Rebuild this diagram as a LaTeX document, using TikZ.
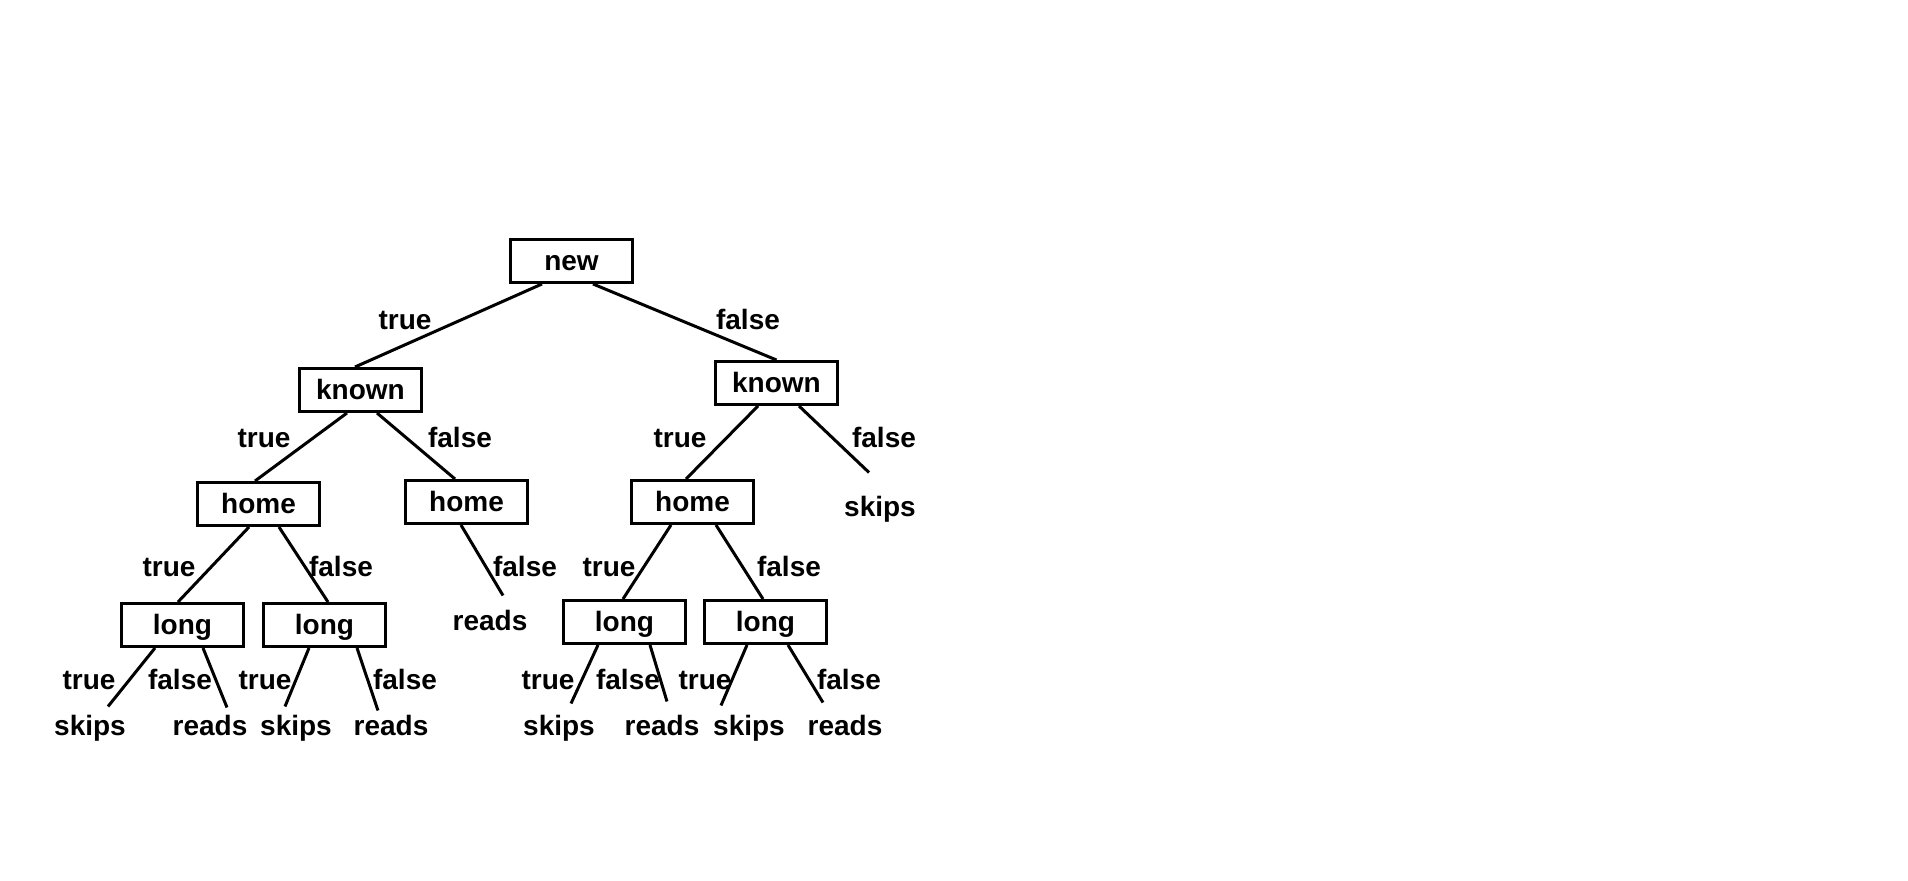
\documentclass[tikz,border=0pt]{standalone}
\usepackage{fontspec}
\setmainfont{Liberation Sans}
\usetikzlibrary{calc}

\begin{document}
\begin{tikzpicture}[x=0.5pt,y=-0.5pt,line width=1.5pt,
    font=\fontsize{14pt}{16pt}\selectfont\bfseries,
    testbox/.style={draw,rectangle,inner sep=0pt,minimum width=61pt,minimum height=21.5pt,text height=10pt,text depth=0pt},
    word/.style={anchor=base,inner sep=0pt,text height=10pt,text depth=3pt}]

    \useasboundingbox (0,0) rectangle (1908,881);

    % the tests of the tree
    \node[testbox](new) at (571.5,261) {new};
    \node[testbox](kL) at (360.5,390) {known};
    \node[testbox](kR) at (776.5,383) {known};
    \node[testbox](h1) at (258.5,504) {home};
    \node[testbox](h2) at (466.5,502) {home};
    \node[testbox](h3) at (692.5,502) {home};
    \node[testbox](l1) at (182.5,625) {long};
    \node[testbox](l2) at (324.5,625) {long};
    \node[testbox](l3) at (624.5,622) {long};
    \node[testbox](l4) at (765.5,622) {long};

    \foreach \n/\x/\y/\t in {s0/880/517/skips, r0/490/631/reads,
        s1/90/736/skips, r1/210/736/reads, s2/296/736/skips, r2/391/736/reads,
        s3/559/736/skips, r3/662/736/reads, s4/749/736/skips, r4/845/736/reads}{% the leaves
      \node[word](\n) at (\x,\y) {\t};
    }

    \foreach \x/\y/\t [count=\i] in {405/330/true, 748/330/false,
        264/448/true, 460/448/false, 680/448/true, 884/448/false,
        169/577/true, 341/577/false, 525/577/false, 609/577/true, 789/577/false,
        89/690/true, 180/690/false, 265/690/true, 405/690/false,
        548/690/true, 628/690/false, 705/690/true, 849/690/false}{% branch labels
      \node[word](lab\i) at (\x,\y) {\t};
    }

    \draw ($(new.south)+(-29.5,0)$) -- ($(kL.north)+(-5.5,0)$);
    \draw ($(new.south)+(21.5,0)$) -- (kR.north);

    \draw ($(kL.south)+(-13.5,0)$) -- ($(h1.north)+(-3.5,0)$);
    \draw ($(kL.south)+(16.5,0)$) -- ($(h2.north)+(-11.5,0)$);
    \draw ($(kR.south)+(-18.5,0)$) -- ($(h3.north)+(-6.5,0)$);
    \draw ($(kR.south)+(22.5,0)$) -- ($(s0.north)+(-11,-23)$);

    \draw ($(h1.south)+(-9.5,0)$) -- ($(l1.north)+(-4.5,0)$);
    \draw ($(h1.south)+(20.5,0)$) -- ($(l2.north)+(3.5,0)$);
    \draw ($(h2.south)+(-5.5,0)$) -- ($(r0.north)+(13,-14)$);
    \draw ($(h3.south)+(-21.5,0)$) -- ($(l3.north)+(-1.5,0)$);
    \draw ($(h3.south)+(23.5,0)$) -- ($(l4.north)+(-2.5,0)$);

    \draw ($(l1.south)+(-27.5,0)$) -- ($(s1.north)+(18,-8)$);
    \draw ($(l1.south)+(20.5,0)$) -- ($(r1.north)+(17,-7)$);
    \draw ($(l2.south)+(-15.5,0)$) -- ($(s2.north)+(-11,-8)$);
    \draw ($(l2.south)+(32.5,0)$) -- ($(r2.north)+(-13,-4)$);
    \draw ($(l3.south)+(-26.5,0)$) -- ($(s3.north)+(12,-11)$);
    \draw ($(l3.south)+(25.5,0)$) -- ($(r3.north)+(5,-13)$);
    \draw ($(l4.south)+(-18.5,0)$) -- ($(s4.north)+(-28,-9)$);
    \draw ($(l4.south)+(22.5,0)$) -- ($(r4.north)+(-22,-12)$);

\end{tikzpicture}
\end{document}
